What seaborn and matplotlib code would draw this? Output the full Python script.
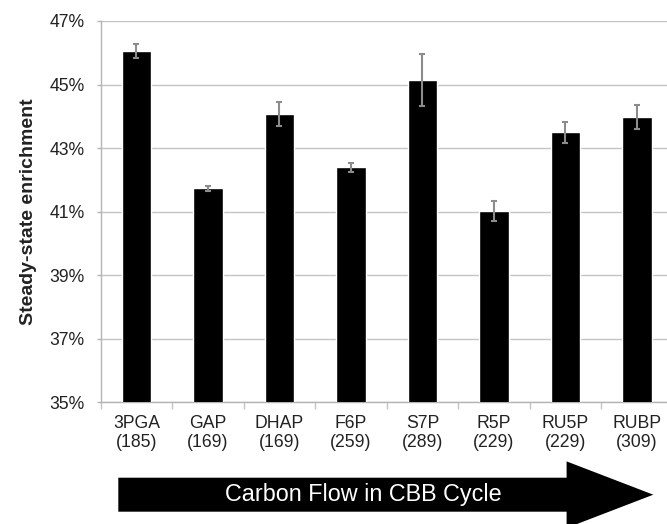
import numpy as np
import pandas as pd
import seaborn as sns
import matplotlib
matplotlib.use('Agg')
import matplotlib.pyplot as plt
from matplotlib.patches import FancyArrow
from matplotlib.ticker import FuncFormatter

# data
metabolites = ['3PGA', 'GAP', 'DHAP', 'F6P', 'S7P', 'R5P', 'RU5P', 'RUBP']
mass = ['185', '169', '169', '259', '289', '229', '229', '309']
enrichment = [46.04, 41.73, 44.08, 42.39, 45.13, 41.03, 43.49, 43.98]
err = [0.22, 0.07, 0.38, 0.15, 0.82, 0.31, 0.32, 0.38]
y_ticks = [35, 37, 39, 41, 43, 45, 47]

tick_labels = [f'{m}\n({n})' for m, n in zip(metabolites, mass)]
df = pd.DataFrame({'label': tick_labels, 'value': enrichment})

sns.set_style('white')
plt.rcParams['font.family'] = ['Liberation Sans', 'DejaVu Sans']

fig = plt.figure(figsize=(6.67, 5.24), dpi=100)
ax = fig.add_axes([0.151, 0.2323, 0.8575, 0.7277])

sns.barplot(data=df, x='label', y='value', color='black', saturation=1,
            width=0.41, errorbar=None, ax=ax, zorder=3)
ax.errorbar(np.arange(len(enrichment)), enrichment, yerr=err, fmt='none',
            ecolor='#8c8c8c', elinewidth=1.5, capsize=2.5, capthick=1.5, zorder=4)

ax.set_ylim(35, 47)
ax.set_xlim(-0.5, len(metabolites) - 0.5)
ax.set_yticks(y_ticks)
ax.yaxis.set_major_formatter(FuncFormatter(lambda v, p: f'{v:.0f}%'))
ax.grid(axis='y', color='#c4c4c4', linewidth=1, zorder=0)
ax.set_axisbelow(True)

for s in ['top', 'right']:
    ax.spines[s].set_visible(False)
for s in ['left', 'bottom']:
    ax.spines[s].set_color('#b4b4b4')
    ax.spines[s].set_linewidth(1)

ax.tick_params(axis='y', which='major', length=3, color='#b4b4b4', width=1,
               pad=8.4, labelsize=12.7, labelcolor='#222222', left=True)
ax.tick_params(axis='x', which='major', length=0, pad=9.5, labelsize=12.7,
               labelcolor='#222222')
ax.set_xticks(np.arange(-0.5, len(metabolites)), minor=True)
ax.tick_params(axis='x', which='minor', length=5, color='#c4c4c4', width=1,
               bottom=True)
for t in ax.get_xticklabels():
    t.set_linespacing(1.15)

ax.set_xlabel('')
ax.set_ylabel('Steady-state enrichment', fontsize=14, fontweight='bold',
              color='#222222')
ax.yaxis.set_label_coords(-0.111, 0.5)

# big arrow under the axis
arrow = FancyArrow(118.3 / 667, 1 - 494.7 / 524, (653.3 - 118.3) / 667, 0,
                   width=34 / 524, head_width=66.6 / 524,
                   head_length=86.7 / 667, length_includes_head=True,
                   transform=fig.transFigure, color='black', lw=0)
fig.add_artist(arrow)
fig.text(363.5 / 667, 1 - 495 / 524, 'Carbon Flow in CBB Cycle', color='white',
         fontsize=16.8, ha='center', va='center')

fig.savefig('out.png', dpi=100)
